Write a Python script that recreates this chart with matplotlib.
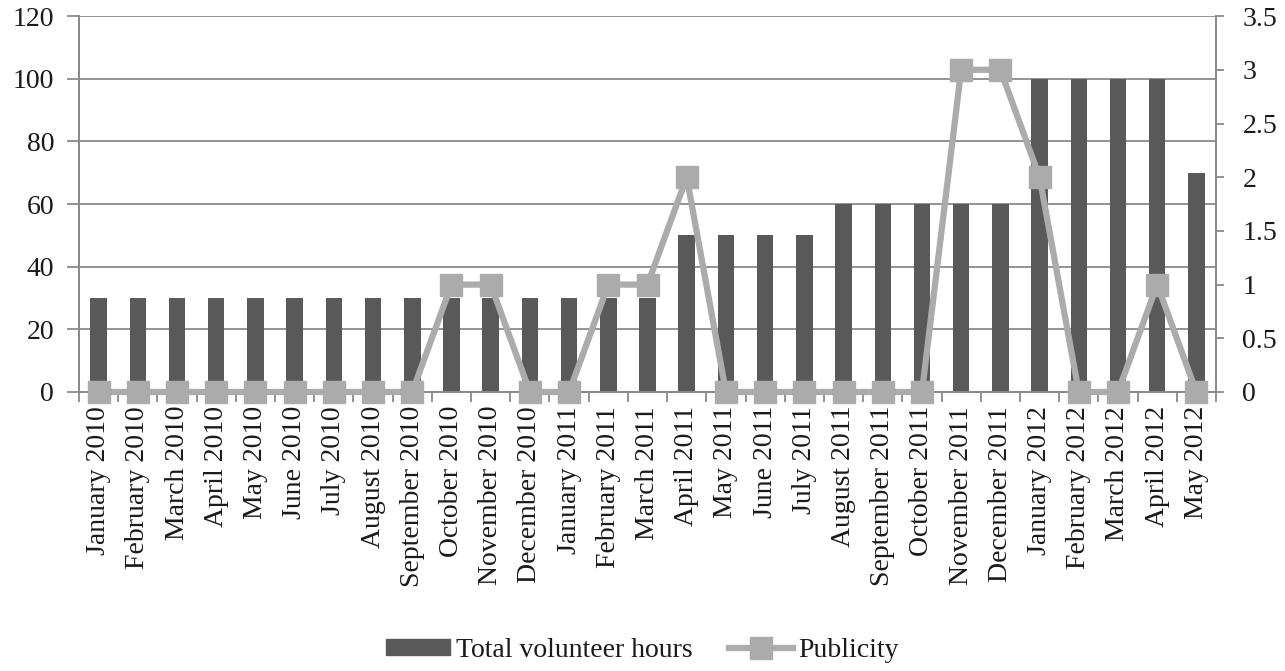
import matplotlib
matplotlib.use("Agg")
import matplotlib.pyplot as plt
import numpy as np
from matplotlib.lines import Line2D
from matplotlib.patches import Patch

months = [
    "January 2010", "February 2010", "March 2010", "April 2010", "May 2010",
    "June 2010", "July 2010", "August 2010", "September 2010", "October 2010",
    "November 2010", "December 2010", "January 2011", "February 2011",
    "March 2011", "April 2011", "May 2011", "June 2011", "July 2011",
    "August 2011", "September 2011", "October 2011", "November 2011",
    "December 2011", "January 2012", "February 2012", "March 2012",
    "April 2012", "May 2012",
]
volunteer_hours = [30, 30, 30, 30, 30, 30, 30, 30, 30, 30, 30, 30, 30, 30, 30,
                   50, 50, 50, 50, 60, 60, 60, 60, 60, 100, 100, 100, 100, 70]
publicity = [0, 0, 0, 0, 0, 0, 0, 0, 0, 1, 1, 0, 0, 1, 1, 2, 0, 0, 0, 0, 0, 0,
             3, 3, 2, 0, 0, 1, 0]

plt.rcParams["font.family"] = ["Liberation Serif", "DejaVu Serif"]
plt.rcParams["font.size"] = 20
plt.rcParams["text.color"] = "#1a1a1a"
plt.rcParams["xtick.color"] = "#1a1a1a"
plt.rcParams["ytick.color"] = "#1a1a1a"

BAR = "#595959"
LINE = "#ababab"
AXIS = "#8a8a8a"

fig = plt.figure(figsize=(12.85, 6.71), dpi=100)
ax = fig.add_axes([0.0615, 0.4158, 0.8848, 0.5602])
ax2 = ax.twinx()

x = np.arange(len(months))
ax.bar(x, volunteer_hours, width=0.42, color=BAR, zorder=2)
ax.set_ylim(0, 120)
ax.set_yticks(np.arange(0, 121, 20))
ax.set_xlim(-0.5, len(months) - 0.5)
ax.yaxis.grid(True, color=AXIS, linewidth=1.3, zorder=0)
ax.set_axisbelow(True)

ax.set_xticks(x)
ax.set_xticklabels(months, rotation=90)
ax.set_xticks(np.arange(-0.5, len(months), 1.0), minor=True)
ax.tick_params(axis="x", which="major", length=0, pad=10)
ax.tick_params(axis="x", which="minor", length=7, color=AXIS, width=1.3)
ax.tick_params(axis="y", length=9, color=AXIS, width=1.3, pad=9)

ax2.plot(x, publicity, color=LINE, linewidth=4.5, marker="s", markersize=15.5,
         markerfacecolor=LINE, markeredgecolor=LINE, zorder=3, clip_on=False)
ax2.set_ylim(0, 3.5)
ax2.set_yticks(np.arange(0, 3.51, 0.5))
ax2.set_yticklabels(["0", "0.5", "1", "1.5", "2", "2.5", "3", "3.5"])
ax2.tick_params(axis="y", length=6, color=AXIS, width=1.3, pad=13)

for a in (ax, ax2):
    a.spines["top"].set_visible(False)
    for s in ("left", "right", "bottom"):
        a.spines[s].set_color(AXIS)
        a.spines[s].set_linewidth(1.3)

handles = [
    Patch(facecolor=BAR, edgecolor=BAR),
    Line2D([0], [0], color=LINE, linewidth=4.5, marker="s", markersize=15.5),
]
leg = fig.legend(handles, ["Total volunteer hours", "Publicity"],
                 loc="lower center", bbox_to_anchor=(0.5, -0.025), ncol=2,
                 frameon=False, handlelength=2.3, handleheight=0.5,
                 handletextpad=0.2, columnspacing=1.3)

fig.savefig("out.png", dpi=100)
